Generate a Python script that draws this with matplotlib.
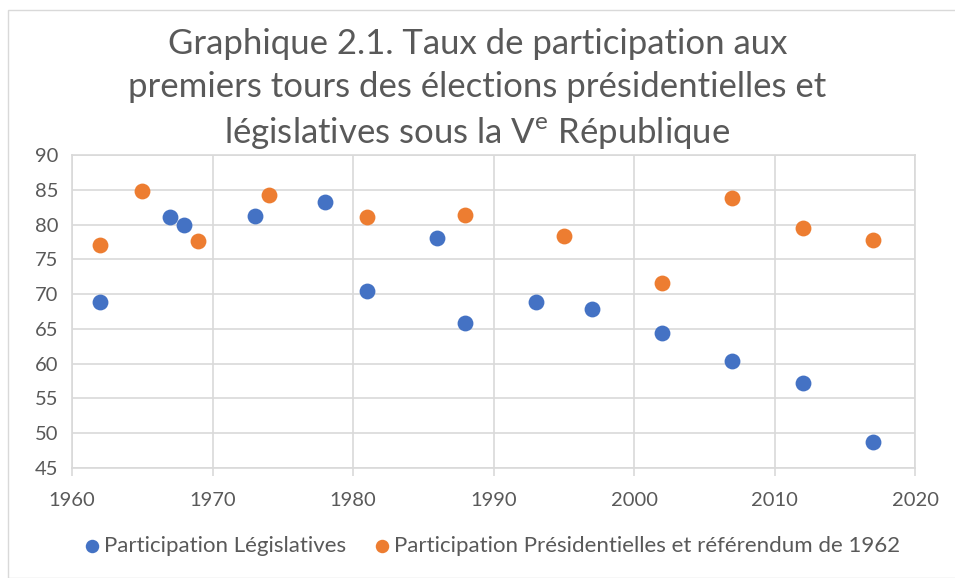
import matplotlib.pyplot as plt
from matplotlib.patches import Rectangle

# Data
annees_leg = [1962, 1967, 1968, 1973, 1978, 1981, 1986, 1988, 1993, 1997, 2002, 2007, 2012, 2017]
part_leg = [68.8, 81.1, 80.0, 81.3, 83.3, 70.4, 78.0, 65.8, 68.9, 67.9, 64.4, 60.4, 57.2, 48.7]

annees_pres = [1962, 1965, 1969, 1974, 1981, 1988, 1995, 2002, 2007, 2012, 2017]
part_pres = [77.0, 84.8, 77.6, 84.2, 81.1, 81.4, 78.4, 71.6, 83.8, 79.5, 77.8]

x_ticks = [1960, 1970, 1980, 1990, 2000, 2010, 2020]
y_ticks = [45, 50, 55, 60, 65, 70, 75, 80, 85, 90]

c_BLUE = "#4472C4"
c_ORANGE = "#ED7D31"
c_TEXT = "#595959"
c_GRID = "#D9D9D9"

plt.rcParams["font.family"] = ["Lato", "DejaVu Sans"]

fig = plt.figure(figsize=(9.55, 5.78), dpi=100)
W, H = 955, 578
ax = fig.add_axes([72 / W, 1 - 468 / H, (915 - 72) / W, (468 - 155) / H])

# chart border
fig.patches.append(Rectangle((8 / W, 0), 1, 1 - 10 / H, transform=fig.transFigure,
                             fill=False, edgecolor="#D9D9D9", linewidth=1))

ax.scatter(annees_leg, part_leg, s=130, color=c_BLUE, zorder=3, linewidths=0,
           label="Participation Législatives")
ax.scatter(annees_pres, part_pres, s=130, color=c_ORANGE, zorder=3, linewidths=0,
           label="Participation Présidentielles et référendum de 1962")

ax.set_xlim(1960, 2020)
ax.set_ylim(45, 90)
ax.set_xticks(x_ticks)
ax.set_yticks(y_ticks)
ax.grid(True, color=c_GRID, linewidth=1.2)
ax.set_axisbelow(True)
for s in ax.spines.values():
    s.set_color(c_GRID)
    s.set_linewidth(1.2)
ax.tick_params(axis="x", colors=c_GRID, length=6, width=1.2, labelcolor=c_TEXT,
               labelsize=14.5, pad=11)
ax.tick_params(axis="y", length=0, labelcolor=c_TEXT, labelsize=14.5, pad=10)

fig.text(0.5, 1 - 90 / H, "Graphique 2.1. Taux de participation aux\n"
         "premiers tours des élections présidentielles et\n"
         "législatives sous la V$^{\\mathregular{e}}$ République",
         ha="center", va="center", fontsize=25, color=c_TEXT, linespacing=1.42)

fig.legend(loc="center", bbox_to_anchor=(0.515, 1 - 546 / H), ncol=2, frameon=False,
           fontsize=16, labelcolor=c_TEXT, handletextpad=0.15, columnspacing=1.2,
           handlelength=0.8, markerscale=0.85)

plt.savefig("out.png", dpi=100)
plt.close()
